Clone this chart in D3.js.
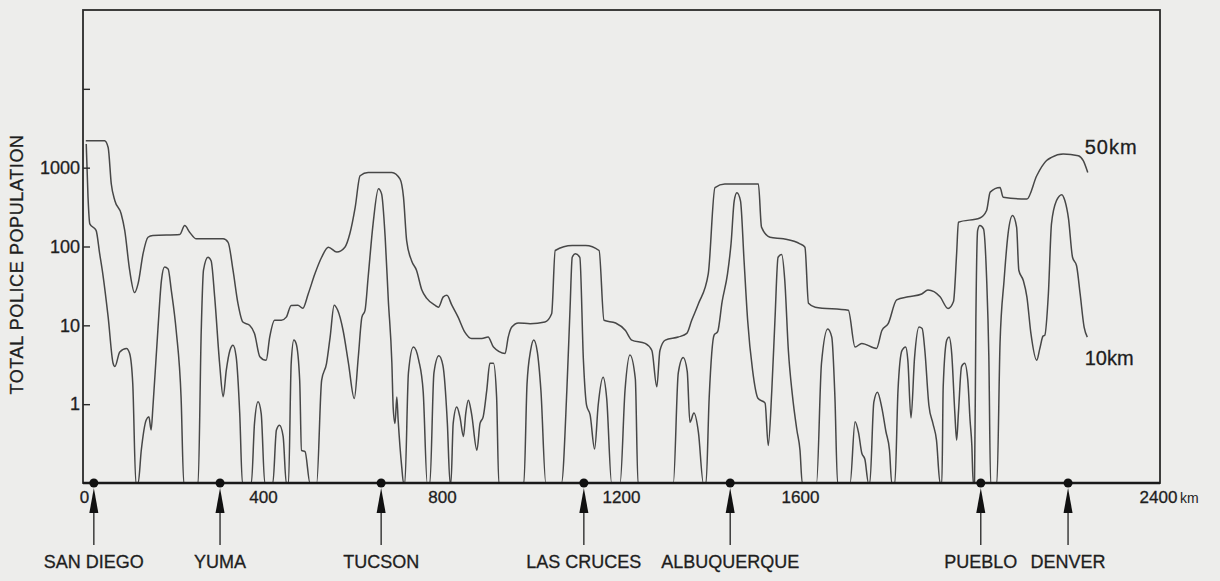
<!DOCTYPE html>
<html>
<head>
<meta charset="utf-8">
<script src="https://cdn.jsdelivr.net/npm/d3@7"></script>
<style>
  body { margin: 0; background: #ededeb; }
  svg { display: block; }
</style>
</head>
<body>
<div id="chart"></div>
<script>
// population along the route, [km, population]
const curve50km = [
  [4, 2200], [46, 2200], [54, 1800], [61, 620], [69, 380], [83, 260], [91, 160], [102, 50], [113, 26], [121, 34],
  [132, 81], [143, 131], [154, 138], [214, 142], [225, 184], [236, 152], [251, 125], [311, 125], [322, 113], [333, 50],
  [344, 19], [355, 11], [370, 10], [381, 7.9], [393, 4.0], [407, 3.6], [415, 7.1], [426, 11.6], [441, 11.6], [452, 12.7],
  [463, 17.9], [478, 18], [489, 16.5], [501, 25], [516, 45], [531, 73], [546, 98], [565, 85], [583, 98], [594, 145],
  [606, 314], [617, 790], [635, 870], [688, 870], [706, 720], [714, 420], [721, 119], [732, 66], [743, 50], [755, 28],
  [766, 22], [784, 18], [792, 17], [803, 23], [811, 24], [822, 18], [836, 12.7], [851, 8.2], [866, 6.8], [889, 6.8],
  [903, 7.1], [915, 5.3], [941, 4.4], [948, 7.1], [956, 9.5], [971, 10.7], [997, 10.5], [1030, 11], [1045, 14], [1053, 89],
  [1091, 103], [1121, 103], [1151, 89], [1162, 11.6], [1188, 10.7], [1210, 8.6], [1224, 6.5], [1254, 5.9], [1269, 4.8], [1280, 1.66],
  [1287, 4.8], [1299, 6.5], [1328, 7.1], [1347, 7.9], [1358, 11.6], [1373, 18.8], [1395, 45], [1410, 560], [1432, 620], [1507, 620],
  [1514, 176], [1533, 131], [1563, 125], [1600, 108], [1611, 98], [1619, 19], [1634, 17], [1708, 15.5], [1723, 5.3], [1738, 5.9],
  [1771, 5.1], [1783, 8.6], [1797, 10.5], [1816, 21], [1842, 23], [1872, 25], [1886, 28], [1913, 23], [1931, 16.3], [1943, 20],
  [1950, 81], [1954, 203], [2002, 230], [2017, 286], [2025, 490], [2047, 560], [2054, 420], [2107, 400], [2129, 790], [2151, 1230],
  [2162, 1350], [2188, 1490], [2222, 1420], [2233, 1230], [2243, 870]
];

const curve10km = [
  [5, 2000], [9, 420], [13, 194], [27, 160], [35, 81], [42, 45], [54, 12.7], [65, 3.3], [69, 3.0], [80, 4.6], [95, 5.1], [102, 4.4], [109, 1.8], [116, 0.1],
  [121, 0.1], [128, 0.26], [139, 0.63], [145, 0.69], [150, 0.47], [154, 0.92], [165, 8.6], [173, 37], [180, 55], [188, 52], [195, 28], [206, 8.6], [217, 1.2], [223, 0.1],
  [255, 0.1], [262, 8.6], [267, 50], [277, 73], [284, 66], [292, 23], [303, 3.3], [311, 1.24], [318, 2.7], [326, 4.8], [333, 5.6], [340, 4.0], [348, 0.76], [354, 0.1],
  [374, 0.1], [381, 0.57], [389, 1.07], [396, 0.76], [404, 0.1],
  [422, 0.1], [430, 0.47], [437, 0.54], [445, 0.39], [452, 0.1],
  [457, 0.1], [463, 3.3], [469, 6.5], [474, 5.9], [482, 2.0], [486, 0.26], [494, 0.25], [505, 0.1],
  [520, 0.1], [531, 2.0], [542, 3.3], [550, 7.1], [559, 18], [567, 15.5], [579, 8.6], [591, 3.3], [604, 1.18], [613, 4.0], [621, 12.7], [628, 15.5],
  [635, 41], [646, 194], [658, 540], [665, 465], [673, 131], [680, 21], [688, 3.3], [691, 0.89], [695, 0.57], [699, 1.23], [702, 0.63], [710, 0.16], [714, 0.1],
  [717, 0.1], [725, 2.5], [736, 5.3], [748, 3.6], [758, 1.43], [767, 0.1],
  [773, 0.1], [782, 2.5], [793, 4.1], [802, 3.1], [812, 0.57], [818, 0.1],
  [820, 0.1], [825, 0.57], [833, 0.92], [840, 0.69], [848, 0.39], [853, 0.76], [859, 1.12], [866, 0.76], [878, 0.26], [885, 0.57], [892, 0.69], [900, 1.5], [907, 3.3], [915, 3.3], [922, 1.24], [927, 0.1],
  [983, 0.1], [990, 1.8], [998, 4.8], [1005, 6.5], [1013, 4.6], [1021, 1.5], [1032, 0.1],
  [1067, 0.1], [1079, 1.5], [1086, 15.5], [1091, 73], [1098, 81], [1108, 73], [1116, 3.6], [1123, 0.97], [1131, 0.73], [1141, 0.27], [1149, 0.97], [1160, 2.2], [1168, 1.19], [1179, 0.1],
  [1198, 0.1], [1209, 1.5], [1220, 4.2], [1232, 2.1], [1238, 0.1],
  [1317, 0.1], [1328, 2.5], [1339, 3.9], [1348, 2.6], [1354, 0.59], [1363, 0.77], [1373, 0.44], [1384, 0.1],
  [1390, 0.1], [1397, 1.19], [1408, 7.5], [1416, 8.3], [1426, 20], [1438, 45], [1446, 110], [1453, 380], [1459, 480], [1467, 380], [1475, 66], [1483, 11.6],
  [1494, 2.7], [1506, 1.19], [1522, 1.03], [1529, 0.30], [1537, 1.5], [1544, 11.6], [1551, 73], [1559, 79], [1566, 37], [1574, 4.8], [1583, 1.3], [1593, 0.47], [1600, 0.26], [1605, 0.1],
  [1637, 0.1], [1648, 3.3], [1662, 9], [1671, 7.1], [1678, 1.24], [1684, 0.1],
  [1712, 0.1], [1723, 0.6], [1731, 0.43], [1738, 0.24], [1745, 0.2], [1753, 0.1],
  [1756, 0.1], [1765, 1.06], [1773, 1.42], [1783, 0.89], [1792, 0.45], [1800, 0.26], [1805, 0.1],
  [1812, 0.1], [1819, 1.5], [1828, 4.8], [1836, 5.3], [1841, 3.6], [1848, 0.67], [1856, 3.9], [1866, 9.5], [1873, 9.1], [1879, 4.8], [1888, 0.97], [1897, 0.57], [1905, 0.35], [1913, 0.1],
  [1917, 0.1], [1920, 1.66], [1928, 6.5], [1933, 7.1], [1939, 4.4], [1946, 0.77], [1950, 0.35], [1954, 0.77], [1961, 3.0], [1968, 3.3], [1975, 2.0], [1980, 0.63], [1984, 0.3], [1987, 0.1],
  [1990, 0.1], [1993, 11.6], [1997, 160], [2002, 184], [2010, 167], [2017, 40], [2022, 4], [2026, 0.1],
  [2040, 0.1], [2047, 5.9], [2056, 37], [2065, 146], [2075, 247], [2084, 176], [2089, 50], [2099, 37], [2107, 23], [2116, 7.9], [2129, 3.6], [2136, 5.1],
  [2143, 7.3], [2147, 7.5], [2155, 25], [2162, 195], [2173, 380], [2185, 455], [2192, 380], [2200, 226], [2209, 73], [2218, 57], [2226, 25], [2235, 9.4], [2242, 7.1]
];

const cityNames = ["SAN DIEGO", "YUMA", "TUCSON", "LAS CRUCES", "ALBUQUERQUE", "PUEBLO", "DENVER"];
const cityKm = [22, 304, 664, 1117, 1444, 2004, 2199];

const xTickValues = [0, 400, 800, 1200, 1600, 2400];
const yTickValues = [1, 10, 100, 1000, 10000];
const yTickLabels = ["1", "10", "100", "1000", ""];

const margin = {top: 10, right: 60, bottom: 98, left: 83};
const width = 1220 - margin.left - margin.right;
const height = 581 - margin.top - margin.bottom;

const font = "'Liberation Sans', Arial, sans-serif";
const ink = "#1e1e1e";

const svg = d3.select("#chart")
    .append("svg")
    .attr("width", width + margin.left + margin.right)
    .attr("height", height + margin.top + margin.bottom)
    .append("g")
    .attr("transform", `translate(${margin.left},${margin.top})`);

const x = d3.scaleLinear().domain([0, 2400]).range([1, width - 2]);
const y = d3.scaleLog().domain([0.1, 100000]).range([height, 0]);

svg.append("clipPath")
    .attr("id", "plot")
    .append("rect")
    .attr("width", width)
    .attr("height", height);

// curves
const line = d3.line()
    .x(d => x(d[0]))
    .y(d => y(Math.max(d[1], 0.1)))
    .curve(d3.curveMonotoneX);

[curve50km, curve10km].forEach(c => {
    svg.append("path")
        .datum(c)
        .attr("clip-path", "url(#plot)")
        .attr("fill", "none")
        .attr("stroke", "#474747")
        .attr("stroke-width", 1.5)
        .attr("stroke-linejoin", "round")
        .attr("d", line);
});

// frame
svg.append("rect")
    .attr("width", width)
    .attr("height", height)
    .attr("fill", "none")
    .attr("stroke", "#2a2a2a")
    .attr("stroke-width", 1.8);

svg.append("line")
    .attr("x1", 0)
    .attr("x2", width)
    .attr("y1", height)
    .attr("y2", height)
    .attr("stroke", "#1a1a1a")
    .attr("stroke-width", 2.6);

// y axis, ticks point inward
const yAxis = svg.append("g")
    .call(d3.axisLeft(y)
        .tickValues(yTickValues)
        .tickFormat((d, i) => yTickLabels[i])
        .tickSizeInner(-7)
        .tickSizeOuter(0)
        .tickPadding(3));
yAxis.select(".domain").remove();
yAxis.selectAll("line").attr("stroke", "#2a2a2a").attr("stroke-width", 1.4);
yAxis.selectAll("text")
    .attr("fill", ink)
    .attr("stroke", ink)
    .attr("stroke-width", 0.3)
    .attr("font-family", font)
    .attr("font-size", "18px");

// x axis labels only
const xAxis = svg.append("g")
    .attr("transform", `translate(0,${height})`)
    .call(d3.axisBottom(x)
        .tickValues(xTickValues)
        .tickFormat(d3.format("d"))
        .tickSize(0)
        .tickPadding(8));
xAxis.select(".domain").remove();
xAxis.selectAll("text")
    .attr("fill", ink)
    .attr("stroke", ink)
    .attr("stroke-width", 0.3)
    .attr("font-family", font)
    .attr("font-size", "17px");

svg.append("text")
    .attr("x", x(2400) + 22)
    .attr("y", height + 20)
    .attr("fill", ink)
    .attr("font-family", font)
    .attr("font-size", "14px")
    .text("km");

svg.append("text")
    .attr("transform", `translate(-65,${height / 2 + 18}) rotate(-90)`)
    .attr("text-anchor", "middle")
    .attr("dominant-baseline", "middle")
    .attr("fill", ink)
    .attr("stroke", ink)
    .attr("stroke-width", 0.3)
    .attr("font-family", font)
    .attr("font-size", "18px")
    .attr("letter-spacing", "0.6px")
    .text("TOTAL POLICE POPULATION");

// curve labels
svg.append("text")
    .attr("x", x(2243) - 3)
    .attr("y", y(1490))
    .attr("fill", ink)
    .attr("stroke", ink)
    .attr("stroke-width", 0.3)
    .attr("font-family", font)
    .attr("font-size", "20px")
    .attr("letter-spacing", "1px")
    .text("50km");

svg.append("text")
    .attr("x", x(2243) - 3)
    .attr("y", y(7.1) + 28)
    .attr("fill", ink)
    .attr("stroke", ink)
    .attr("stroke-width", 0.3)
    .attr("font-family", font)
    .attr("font-size", "20px")
    .text("10km");

// city markers
const cities = svg.append("g")
    .selectAll("g")
    .data(cityKm)
    .join("g")
    .attr("transform", d => `translate(${x(d)},${height})`);

cities.append("circle")
    .attr("r", 4.5)
    .attr("fill", "#111");

cities.append("path")
    .attr("d", "M0,5L-4.5,30L4.5,30Z")
    .attr("fill", "#111");

cities.append("line")
    .attr("y1", 30)
    .attr("y2", 62)
    .attr("stroke", "#222")
    .attr("stroke-width", 1.3);

cities.append("text")
    .attr("y", 85)
    .attr("text-anchor", "middle")
    .attr("fill", ink)
    .attr("stroke", ink)
    .attr("stroke-width", 0.3)
    .attr("font-family", font)
    .attr("font-size", "18px")
    .text((d, i) => cityNames[i]);
</script>
</body>
</html>
